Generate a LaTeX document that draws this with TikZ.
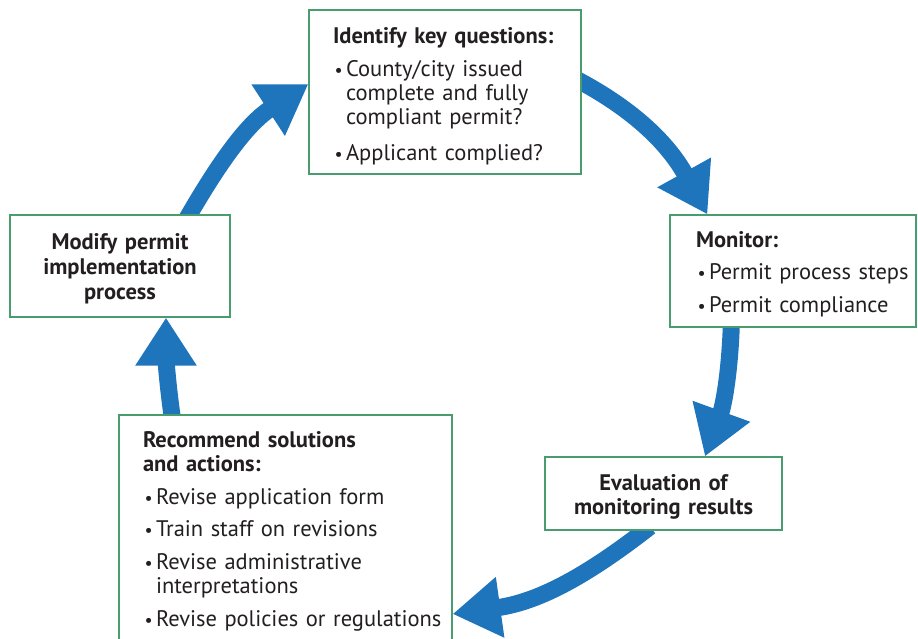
\documentclass[tikz,border=0pt]{standalone}
\usepackage{fontspec}
\setmainfont{PT Sans}
\usetikzlibrary{arrows.meta,backgrounds}
\definecolor{flowblue}{RGB}{31,117,188}
\definecolor{boxgreen}{RGB}{72,156,110}
\definecolor{inkgray}{RGB}{35,31,32}
\newcommand{\bitem}[1]{\makebox[13pt][l]{\hspace{1.5pt}\scalebox{0.8}{\textbullet}}\mbox{#1}}
\newcommand{\bcont}[1]{\hspace*{13pt}\mbox{#1}}

\begin{document}
\begin{tikzpicture}[x=1pt,y=1pt,
    box/.style={draw=boxgreen, line width=1.2pt, fill=white, text=inkgray,
      font=\fontsize{22.5}{24}\selectfont, inner ysep=0pt,
      execute at begin node={\rule{0pt}{22pt}}},
    listbox/.style={box, align=left, inner xsep=24pt},
    centerbox/.style={box, align=center, inner xsep=0pt},
    flow/.style={draw=flowblue, line width=17pt,
      -{Triangle[width=58pt,length=48pt]}}
  ]
  \useasboundingbox (0,0) rectangle (918,639);

  % the five steps
  \node[listbox, text width=224pt, minimum height=164pt] (ident) at (445,547)
    {\rule{0pt}{24pt}\mbox{\bfseries Identify key questions:}\\[9pt]
     \bitem{County/city issued}\\
     \bcont{complete and fully}\\
     \bcont{compliant permit?}\\[12pt]
     \bitem{Applicant complied?}};
  \node[listbox, inner xsep=26pt, text width=194pt, minimum height=112pt] (monitor) at (793,368)
    {\mbox{\bfseries Monitor:}\\[8.5pt]
     \bitem{Permit process steps}\\[8.5pt]
     \bitem{Permit compliance}};
  \node[centerbox, text width=237pt, minimum height=73pt] (eval) at (663.5,145.5)
    {\bfseries Evaluation of\\ \bfseries monitoring results};
  \node[listbox, text width=285pt, minimum height=226pt] (recommend) at (285.5,111)
    {\mbox{\bfseries Recommend solutions}\\
     \mbox{\bfseries and actions:}\\[9pt]
     \bitem{Revise application form}\\[8pt]
     \bitem{Train staff on revisions}\\[9pt]
     \bitem{Revise administrative}\\
     \bcont{interpretations}\\[9pt]
     \bitem{Revise policies or regulations}};
  \node[centerbox, text width=220pt, minimum height=102pt] (modify) at (120,373)
    {\bfseries Modify permit\\[1pt] \bfseries implementation\\[1pt] \bfseries process};

  % the cycle
  \begin{scope}[on background layer]
    \draw[flow] ([shift={(-4,12)}]ident.east) to[out=-28, in=119] ([xshift=38pt]monitor.north west);
    \draw[flow] ([shift={(62,4)}]monitor.south west) to[out=-92, in=70] ([xshift=41.5pt]eval.north);
    \draw[flow] ([shift={(-13.5,4)}]eval.south) to[out=-142, in=8] ([yshift=-86pt]recommend.east);
    \draw[flow] ([shift={(54,-4)}]recommend.north west) to[out=98, in=-90] ([xshift=46pt]modify.south);
    \draw[flow] ([shift={(67,-4)}]modify.north) to[out=60, in=213] ([yshift=8pt]ident.west);
  \end{scope}
\end{tikzpicture}
\end{document}
